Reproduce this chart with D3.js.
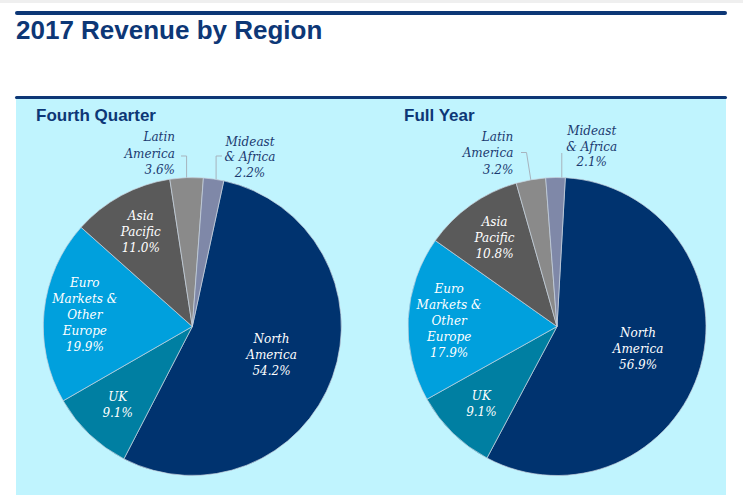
<!DOCTYPE html>
<html>
<head>
<meta charset="utf-8">
<script src="https://cdn.jsdelivr.net/npm/d3@7"></script>
<style>
  html, body { margin: 0; padding: 0; background: #ffffff; }
  svg { display: block; }
</style>
</head>
<body>
<svg id="chart" width="743" height="496"></svg>
<script>
// ---------- data ----------
const chartTitle = "2017 Revenue by Region";
const panelTitles = ["Fourth Quarter", "Full Year"];
const regions = ["North America", "UK", "Euro Markets & Other Europe", "Asia Pacific", "Latin America", "Mideast & Africa"];
const labelLines = [["North", "America"], ["UK"], ["Euro", "Markets &", "Other", "Europe"], ["Asia", "Pacific"], ["Latin", "America"], ["Mideast", "& Africa"]];
const q4Share = [54.2, 9.1, 19.9, 11.0, 3.6, 2.2];
const fyShare = [56.9, 9.1, 17.9, 10.8, 3.2, 2.1];
const sliceColors = ["#00336f", "#007fa2", "#00a0dd", "#5a5a5a", "#8a8a8a", "#7f88a8"];

// ---------- layout / style ----------
const W = 743, H = 496;
const navy = "#0d3776";
const R = 149;
const pies = [
  { values: q4Share, cx: 192.3, cy: 326.5, startDeg: 12.2, title: panelTitles[0], titleX: 36,
    outside: {
      4: { x: 175, anchor: "end", y0: 137.3, pitch: 16.4, lead: { x: 181, y: 156, elbowX: null, frac: 0.5 } },
      5: { x: 250, anchor: "middle", y0: 141.7, pitch: 15.6, lead: { x: 222, y: 156, elbowX: null, frac: 0.62 } }
    } },
  { values: fyShare, cx: 557, cy: 326.5, startDeg: 3.2, title: panelTitles[1], titleX: 404,
    outside: {
      4: { x: 513.3, anchor: "end", y0: 136.7, pitch: 16.6, lead: { x: 521, y: 152.5, elbowX: 526.5, frac: 0.5 } },
      5: { x: 591.7, anchor: "middle", y0: 130.7, pitch: 15.8, lead: { x: null, y: 153, elbowX: null, frac: 0.82 } }
    } }
];

const svg = d3.select("#chart");

// page top band
svg.append("rect").attr("x", 0).attr("y", 0).attr("width", W).attr("height", 3).attr("fill", "#efefef");

// top rule + title
svg.append("rect").attr("x", 15).attr("y", 11).attr("width", 712).attr("height", 4).attr("rx", 2).attr("fill", navy);
svg.append("text").attr("x", 16).attr("y", 38.5)
  .attr("font-family", "'Liberation Sans', Arial, sans-serif").attr("font-weight", "bold")
  .attr("font-size", 26).attr("fill", navy).text(chartTitle);

// panel
svg.append("rect").attr("x", 16).attr("y", 98).attr("width", 710).attr("height", 397).attr("fill", "#c0f4fe");
svg.append("rect").attr("x", 15).attr("y", 96).attr("width", 712).attr("height", 3).attr("rx", 1.5).attr("fill", navy);

const fmt = d3.format(".1f");
const rad = d => d * Math.PI / 180;

pies.forEach(p => {
  svg.append("text").attr("x", p.titleX).attr("y", 121)
    .attr("font-family", "'Liberation Sans', Arial, sans-serif").attr("font-weight", "bold")
    .attr("font-size", 17).attr("fill", navy).text(p.title);

  const pie = d3.pie().sort(null).value(d => d)
    .startAngle(rad(p.startDeg)).endAngle(rad(p.startDeg) + 2 * Math.PI);
  const arcs = pie(p.values);
  const arc = d3.arc().innerRadius(0).outerRadius(R);
  const maxV = d3.max(p.values);

  const g = svg.append("g").attr("transform", `translate(${p.cx},${p.cy})`);
  g.selectAll("path").data(arcs).enter().append("path")
    .attr("d", arc)
    .attr("fill", (d, i) => sliceColors[i])
    .attr("stroke", "#c9d2de").attr("stroke-width", 0.7);

  const font = "'DejaVu Serif', Georgia, serif";

  arcs.forEach((a, i) => {
    const lines = labelLines[i].concat([fmt(a.data) + "%"]);
    const o = p.outside[i];
    if (o) {
      // leader line
      const ang = a.startAngle + o.lead.frac * (a.endAngle - a.startAngle);
      const ex = p.cx + R * Math.sin(ang), ey = p.cy - R * Math.cos(ang);
      const elbowX = o.lead.elbowX == null ? ex : o.lead.elbowX;
      const sx = o.lead.x == null ? ex : o.lead.x;
      svg.append("path")
        .attr("d", d3.line()([[sx, o.lead.y], [elbowX, o.lead.y], [ex, ey]]))
        .attr("fill", "none").attr("stroke", "#a7b3bd").attr("stroke-width", 1);
      const t = svg.append("text").attr("font-family", font).attr("font-style", "italic")
        .attr("font-size", 12).attr("fill", "#1b3a70").attr("text-anchor", o.anchor);
      lines.forEach((ln, k) => {
        t.append("tspan").attr("x", o.x).attr("y", o.y0 + k * o.pitch)
          .attr("dominant-baseline", "central").text(ln);
      });
    } else {
      const f = a.data === maxV ? 0.565 : 0.725;
      const mid = (a.startAngle + a.endAngle) / 2;
      const lx = p.cx + f * R * Math.sin(mid), ly = p.cy - f * R * Math.cos(mid);
      const pitch = 16;
      const y0 = ly - (lines.length - 1) * pitch / 2;
      const t = svg.append("text").attr("font-family", font).attr("font-style", "italic")
        .attr("font-size", 12).attr("fill", "#ffffff").attr("text-anchor", "middle");
      lines.forEach((ln, k) => {
        t.append("tspan").attr("x", lx).attr("y", y0 + k * pitch)
          .attr("dominant-baseline", "central").text(ln);
      });
    }
  });
});
</script>
</body>
</html>
